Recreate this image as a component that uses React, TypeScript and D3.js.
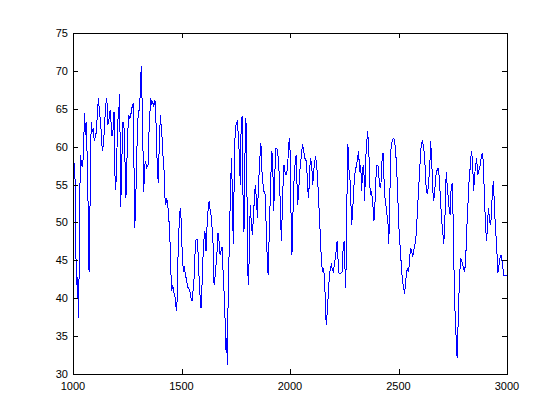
import React from "react";
import * as d3 from "d3";

const xValues: number[] = [
  1000, 1003, 1005, 1008, 1011, 1012, 1015, 1018, 1021, 1025, 1028, 1031, 1035, 1038, 1041, 1045, 1049, 1054, 1057, 1060,
  1063, 1068, 1071, 1074, 1077, 1081, 1084, 1089, 1094, 1098, 1103, 1108, 1112, 1117, 1121, 1126, 1131, 1135, 1140, 1144,
  1149, 1154, 1158, 1161, 1166, 1171, 1175, 1180, 1184, 1189, 1192, 1197, 1201, 1206, 1210, 1215, 1220, 1223, 1227, 1230,
  1235, 1240, 1244, 1247, 1252, 1257, 1261, 1266, 1270, 1275, 1278, 1281, 1284,
  1289, 1292, 1297, 1301, 1306, 1309, 1312, 1315, 1318, 1323, 1326, 1330, 1335, 1340, 1346, 1350, 1355, 1358, 1363, 1367,
  1372, 1377, 1381, 1384, 1389, 1393, 1398, 1403, 1407, 1412, 1416, 1420, 1423, 1427, 1432, 1436, 1439, 1444, 1449, 1452,
  1455, 1459, 1464, 1469, 1473, 1478, 1481, 1484, 1489, 1493, 1496, 1499, 1504, 1509, 1512, 1516, 1521, 1525, 1530, 1535,
  1539, 1544, 1549, 1553, 1558, 1562, 1567, 1572, 1576, 1581, 1585, 1590, 1595, 1599, 1604, 1608, 1613, 1618, 1622, 1627,
  1631, 1636, 1641, 1645,
  1650, 1654, 1659, 1664, 1668, 1673, 1678, 1682, 1687, 1691, 1696, 1701, 1705, 1708, 1711, 1714, 1717, 1722, 1727, 1731,
  1736, 1739, 1744, 1748, 1753, 1757, 1762, 1767, 1771, 1774, 1779, 1784, 1788, 1793, 1797, 1802, 1807, 1811, 1814, 1817,
  1822, 1827, 1831, 1836, 1840, 1845, 1850, 1854, 1859, 1863, 1866, 1871, 1876, 1880, 1885, 1889, 1894, 1899, 1903, 1908,
  1913, 1916, 1920, 1925, 1929, 1934, 1939, 1943, 1948, 1952, 1957, 1960, 1963, 1968, 1972, 1977, 1982, 1986, 1991, 1995,
  1999, 2003, 2006, 2009, 2014, 2019, 2023, 2028, 2032, 2035, 2040, 2045, 2049, 2054, 2058, 2063, 2068, 2072, 2077, 2081,
  2086, 2091, 2095, 2100, 2105, 2109, 2114, 2118, 2123, 2128, 2132, 2137, 2141, 2146, 2151, 2155, 2160, 2164, 2167, 2172,
  2177, 2181, 2186, 2191, 2195, 2200, 2204, 2209, 2214, 2217, 2221, 2226, 2230, 2235, 2240, 2244, 2249, 2254, 2257, 2261,
  2264, 2267, 2270, 2275, 2280, 2284, 2289, 2293, 2298, 2303, 2307, 2312, 2316, 2321,
  2326, 2330, 2335, 2340, 2344, 2349, 2353, 2358, 2363, 2367, 2370, 2375, 2379, 2384, 2387, 2392, 2396, 2401, 2406, 2410,
  2415, 2419, 2424, 2429, 2433, 2438, 2442, 2447, 2452, 2455, 2459, 2464, 2469, 2473, 2478, 2482, 2487, 2492, 2496, 2501,
  2505, 2510, 2515, 2519, 2524, 2528, 2533, 2538, 2542, 2547, 2551, 2556, 2561, 2565, 2570, 2575, 2579, 2584, 2588, 2593,
  2598, 2602, 2607, 2611, 2616, 2621, 2625, 2630, 2634, 2639, 2644, 2648, 2653, 2657, 2662, 2667, 2671, 2676, 2680, 2685,
  2694, 2699, 2704, 2708, 2713, 2717, 2720, 2725, 2730, 2734, 2739, 2742, 2747, 2751, 2754, 2759, 2762, 2767, 2770, 2773,
  2777, 2782, 2787, 2791, 2796, 2800, 2805, 2810, 2814, 2819, 2823, 2828, 2833, 2837, 2842, 2846, 2851, 2856, 2860, 2865,
  2869, 2874, 2879, 2883, 2888, 2892, 2896, 2900, 2905, 2909, 2914, 2919, 2923, 2928, 2932, 2937, 2942, 2946, 2951, 2955,
  2958, 2963, 2968, 2972, 2977, 2981, 2986, 2992, 3000,
];

const yValues: number[] = [
  57.0, 55.6, 57.9, 56.0, 55.5, 50.5, 42.0, 41.8, 42.8, 37.4, 43.0, 53.4, 58.9, 57.5, 58.2, 57.3, 60.6, 64.4, 61.5, 63.2,
  61.0, 56.0, 47.7, 43.5, 48.6, 58.5, 63.3, 62.0, 62.4, 60.7, 61.3, 62.0, 64.2, 66.4, 65.0, 63.5, 61.6, 59.4, 60.3, 62.0,
  64.8, 66.4, 65.5, 62.9, 63.7, 64.8, 63.3, 61.4, 62.0, 64.6, 57.1, 54.3, 57.8, 63.5, 64.0, 66.9, 52.0, 55.9, 60.3, 63.3,
  62.5, 57.6, 53.2, 56.7, 61.6, 64.2, 63.8, 64.0, 65.1, 65.3, 65.8, 57.6, 49.3,
  52.0, 57.2, 62.0, 64.8, 64.8, 66.6, 69.3, 70.6, 66.4, 58.9, 54.0, 57.6, 58.0, 57.2, 57.6, 61.8, 64.8, 66.4, 65.5, 66.0,
  65.3, 66.2, 65.5, 61.1, 57.1, 55.2, 60.8, 64.2, 62.4, 60.7, 58.0, 56.7, 53.6, 52.3, 53.2, 52.5, 51.5, 49.5, 46.2, 42.7,
  40.9, 41.8, 40.8, 40.5, 39.2, 38.3, 40.9, 45.5, 49.7, 51.5, 51.9, 49.7, 45.3, 43.5, 44.2, 43.5, 42.7, 42.0, 41.4, 41.2,
  40.9, 40.0, 39.6, 40.9, 42.7, 45.7, 47.7, 47.7, 46.2, 42.7, 40.5, 38.7, 42.0, 45.3, 47.9, 48.8, 46.2, 49.7, 51.5, 52.8,
  51.9, 51.0, 49.3, 47.5,
  41.8, 42.7, 44.4, 46.2, 48.6, 47.5, 45.7, 46.2, 46.8, 44.0, 40.9, 37.0, 33.2, 34.8, 31.2, 38.3, 42.7, 49.7, 55.6, 58.5,
  50.6, 47.1, 58.5, 62.5, 63.1, 63.3, 61.6, 58.5, 55.0, 61.6, 64.0, 52.3, 48.8, 59.8, 63.8, 53.2, 41.8, 44.4, 48.8, 52.3,
  49.7, 48.4, 50.6, 53.2, 55.0, 53.2, 50.6, 54.6, 57.1, 59.4, 60.5, 56.7, 55.0, 54.1, 53.7, 50.6, 46.2, 43.1, 47.1, 52.3,
  57.1, 59.4, 58.5, 51.5, 55.4, 59.8, 59.8, 59.4, 57.6, 55.4, 50.6, 47.5, 50.2, 55.0, 57.6, 56.7, 56.3, 56.7, 58.5, 60.5,
  61.1, 55.0, 48.4, 45.7, 51.5, 55.9, 57.6, 58.9, 55.4, 52.3, 54.1, 56.7, 57.8, 59.4, 60.3, 59.4, 58.5, 58.5, 57.6, 54.6,
  53.2, 57.1, 58.5, 57.6, 55.0, 56.7, 58.1, 58.7, 57.6, 55.4, 52.8, 50.2, 47.1, 44.4, 43.5, 44.0, 42.2, 38.3, 36.5, 38.3,
  40.9, 42.7, 44.0, 44.4, 43.8, 43.5, 44.4, 45.3, 46.6, 47.5, 45.3, 43.3, 43.3, 43.3, 43.5, 46.2, 47.5, 43.5, 41.4, 49.7,
  56.7, 60.3, 57.1, 56.7, 53.2, 49.7, 51.5, 54.1, 56.3, 57.1, 57.6, 58.7, 59.4, 56.7,
  57.6, 54.1, 57.1, 57.6, 52.8, 58.5, 60.3, 62.0, 59.8, 55.9, 53.7, 54.1, 53.2, 51.5, 50.2, 52.8, 55.9, 57.6, 57.4, 55.9,
  54.6, 55.0, 58.1, 59.2, 55.9, 53.2, 52.3, 51.0, 49.7, 47.1, 51.5, 59.4, 60.5, 60.9, 61.1, 60.7, 59.4, 56.7, 54.1, 49.7,
  47.9, 45.7, 43.5, 42.2, 41.4, 40.5, 42.2, 43.5, 44.0, 43.5, 45.3, 46.6, 46.2, 45.5, 46.2, 47.1, 47.5, 49.7, 51.9, 54.6,
  57.1, 59.4, 60.5, 60.7, 59.8, 58.5, 55.4, 54.1, 53.7, 55.4, 57.1, 60.7, 58.5, 54.6, 52.8, 54.1, 55.9, 56.7, 57.1, 57.1,
  52.8, 50.2, 48.8, 47.1, 49.3, 54.1, 56.7, 54.6, 53.1, 51.5, 51.0, 54.1, 55.2, 51.5, 46.2, 39.6, 37.0, 33.9, 32.1, 34.8,
  39.2, 43.3, 45.3, 44.9, 44.4, 43.8, 43.5, 45.3, 48.8, 51.5, 54.6, 56.3, 58.5, 59.4, 57.6, 54.1, 56.3, 57.6, 58.5, 56.3,
  56.7, 57.1, 58.1, 58.9, 59.2, 57.1, 53.2, 50.6, 47.5, 48.8, 51.9, 50.6, 49.7, 50.6, 53.7, 55.4, 52.3, 49.7, 47.5, 45.3,
  43.3, 44.4, 45.3, 45.7, 44.9, 44.0, 43.0, 43.0, 43.0,
];

const xTicks: number[] = [1000, 1500, 2000, 2500, 3000];
const yTicks: number[] = [30, 35, 40, 45, 50, 55, 60, 65, 70, 75];

const W = 560;
const H = 420;
const left = 73;
const right = 507;
const top = 33;
const bottom = 374;
const tickLen = 5;
const font = "'Liberation Sans', Arial, Helvetica, sans-serif";

export default function App() {
  const x = d3.scaleLinear().domain([1000, 3000]).range([left, right]);
  const y = d3.scaleLinear().domain([30, 75]).range([bottom, top]);
  const pts: [number, number][] = xValues.map((v, i) => [v, yValues[i]]);
  const line = d3
    .line<[number, number]>()
    .x((d) => x(d[0]))
    .y((d) => y(d[1]));
  const path = line(pts) || "";

  return (
    <svg
      width={W}
      height={H}
      style={{ position: "absolute", left: 0, top: 0, background: "#fff" }}
    >
      <rect x={0} y={0} width={W} height={H} fill="#fff" />
      <path
        d={path}
        fill="none"
        stroke="#0000ff"
        strokeWidth={1}
        strokeLinejoin="miter"
        shapeRendering="crispEdges"
      />
      <g shapeRendering="crispEdges" stroke="#000" strokeWidth={1}>
        <rect x={left + 0.5} y={top + 0.5} width={right - left} height={bottom - top} fill="none" />
        {xTicks.map((t) => (
          <g key={"xt" + t}>
            <line x1={Math.round(x(t)) + 0.5} x2={Math.round(x(t)) + 0.5} y1={bottom} y2={bottom - tickLen} />
            <line x1={Math.round(x(t)) + 0.5} x2={Math.round(x(t)) + 0.5} y1={top} y2={top + tickLen} />
          </g>
        ))}
        {yTicks.map((t) => (
          <g key={"yt" + t}>
            <line x1={left} x2={left + tickLen} y1={Math.round(y(t)) + 0.5} y2={Math.round(y(t)) + 0.5} />
            <line x1={right} x2={right - tickLen} y1={Math.round(y(t)) + 0.5} y2={Math.round(y(t)) + 0.5} />
          </g>
        ))}
      </g>
      <g fontFamily={font} fontSize={11} fill="#000">
        {xTicks.map((t) => (
          <text key={"xl" + t} x={x(t)} y={bottom + 16} textAnchor="middle">
            {t}
          </text>
        ))}
        {yTicks.map((t) => (
          <text key={"yl" + t} x={left - 5} y={y(t) + 4} textAnchor="end">
            {t}
          </text>
        ))}
      </g>
    </svg>
  );
}
